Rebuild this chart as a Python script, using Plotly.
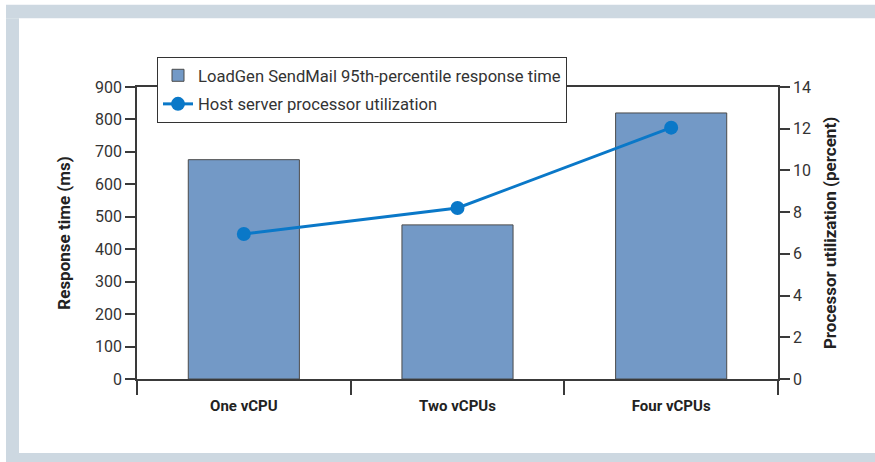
import plotly.graph_objects as go

categories = ["One vCPU", "Two vCPUs", "Four vCPUs"]
response_ms = [676, 475, 820]
cpu_util_pct = [6.95, 8.2, 12.05]
left_ticks = [0, 100, 200, 300, 400, 500, 600, 700, 800, 900]
right_ticks = [0, 2, 4, 6, 8, 10, 12, 14]

W, H = 875, 462
L, R, T, B = 137, 778, 87, 379
FONT = "Roboto, Liberation Sans, sans-serif"
AXC = "#3a3a3a"
GRAY = "#cdd8e1"

def px(x):
    return (x - L) / (R - L)

def py(y):
    return (B - y) / (B - T)

fig = go.Figure()
fig.add_trace(go.Bar(
    x=categories, y=response_ms, name="LoadGen SendMail 95th-percentile response time",
    marker=dict(color="#7399c6", line=dict(color="#4a4a4a", width=1)),
    width=0.52, yaxis="y", legendgroup="a",
))
fig.add_trace(go.Scatter(
    x=categories, y=cpu_util_pct, name="Host server processor utilization",
    mode="lines+markers", line=dict(color="#0a78c8", width=3),
    marker=dict(size=14, color="#0a78c8"), yaxis="y2", legendgroup="b",
))

shapes = [
    dict(type="rect", xref="paper", yref="paper", x0=px(6), x1=px(875), y0=py(4.7), y1=py(18.3),
         fillcolor=GRAY, line=dict(width=0), layer="below"),
    dict(type="rect", xref="paper", yref="paper", x0=px(6), x1=px(19), y0=py(18.3), y1=py(462),
         fillcolor=GRAY, line=dict(width=0), layer="below"),
    dict(type="rect", xref="paper", yref="paper", x0=px(19), x1=px(875), y0=py(453), y1=py(462),
         fillcolor=GRAY, line=dict(width=0), layer="below"),
]

fig.update_layout(
    width=W, height=H,
    margin=dict(l=L, r=W - R, t=T, b=H - B, pad=0),
    paper_bgcolor="white", plot_bgcolor="rgba(0,0,0,0)",
    font=dict(family=FONT, size=16, color="#333333"),
    shapes=shapes,
    showlegend=True,
    legend=dict(x=px(157), y=py(57), xanchor="left", yanchor="top",
                bgcolor="white", bordercolor="#333333", borderwidth=1,
                font=dict(size=16.6, family=FONT, color="#333333"),
                traceorder="grouped", tracegroupgap=4, itemwidth=30),
    xaxis=dict(
        type="category", showgrid=False, showline=True, linecolor=AXC, linewidth=1.5,
        mirror=True, ticks="outside", ticklen=14, tickcolor=AXC, tickwidth=1.5,
        tickson="boundaries", tickfont=dict(size=15, family=FONT, color="#222222"),
        tickvals=categories, ticktext=["<b>%s</b>" % c for c in categories],
        ticklabelstandoff=12,
        range=[-0.5, 2.5], zeroline=False,
    ),
    yaxis=dict(
        range=[0, 900], tickvals=left_ticks, showgrid=False, zeroline=False,
        showline=True, linecolor=AXC, linewidth=1.5, ticks="outside", ticklen=10,
        tickcolor=AXC, tickwidth=1.5, tickfont=dict(size=16, color="#333333"),
        title=dict(text="<b>Response time (ms)</b>", font=dict(size=17, color="#222222"), standoff=20),
    ),
    yaxis2=dict(
        range=[0, 14], tickvals=right_ticks, overlaying="y", side="right",
        showgrid=False, zeroline=False, showline=True, linecolor=AXC, linewidth=1.5,
        ticks="outside", ticklen=10, tickcolor=AXC, tickwidth=1.5,
        tickfont=dict(size=16, color="#333333"),
        title=dict(text="<b>Processor utilization (percent)</b>", font=dict(size=17, color="#222222"), standoff=14),
    ),
)

fig.write_html("out.html", config={"displayModeBar": False},
               post_script="document.body.style.margin='0';")
